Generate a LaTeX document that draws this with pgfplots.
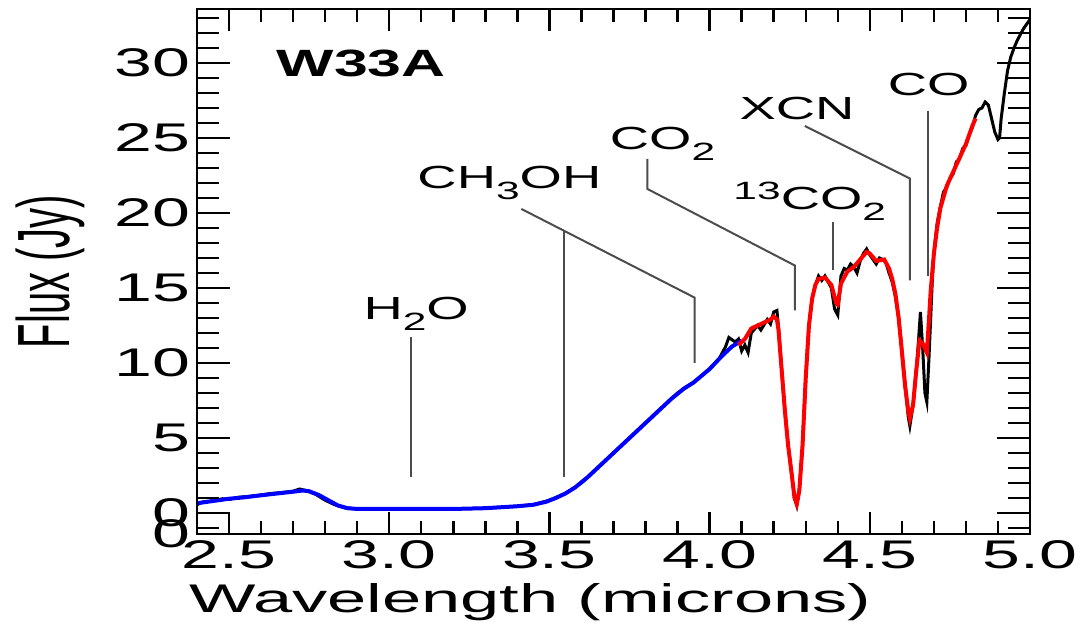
\documentclass[border=0pt]{standalone}
\usepackage{fontspec}
\setmainfont{Liberation Sans}
\usepackage{graphicx}
\usepackage{pgfplots}
\pgfplotsset{compat=1.18}
\newcommand\sx[1]{\scalebox{1.7}[1]{#1}}
\newcommand\sub[1]{\raisebox{-5.5pt}{\fontsize{12.5}{12.5}\selectfont #1}}
\newcommand\sps[1]{\raisebox{5pt}{\fontsize{12.5}{12.5}\selectfont #1}}
\definecolor{annot}{gray}{0.3}
\pgfplotsset{common/.style={at={(0,0)}, anchor=south west,
  scale only axis, width=416.5pt, height=262.5pt,
  xmin=2.4, xmax=5.0, ymin=-1.4, ymax=33.6,
  tick align=inside,
  axis line style={line width=1.3pt},
  tick style={line width=1.2pt, black},
  tick label style={font=\fontsize{20}{20}\selectfont},
  label style={font=\fontsize{20}{20}\selectfont}}}
\begin{document}
\begin{tikzpicture}
\begin{axis}[common, name=ax,
  xtick={2.5,3,3.5,4,4.5,5},
  xticklabels={\sx{2.5},\sx{3.0},\sx{3.5},\sx{4.0},\sx{4.5},\sx{5.0}},
  minor xtick={2.4,2.5,...,5.0},
  ytick=\empty,
  major tick length=11pt, minor tick length=6.5pt,
  xlabel={\scalebox{1.76}[1]{Wavelength (microns)}},
  x label style={at={(ticklabel cs:0.4)}, anchor=north},
]
% observed spectrum (black)
\addplot[black, line width=1.5pt] coordinates {
(2.40,0.55) (2.42,0.75) (2.45,0.8) (2.48,0.95) (2.50,0.9) (2.53,1.05) (2.56,1.1)
(2.60,1.2) (2.63,1.3) (2.66,1.35) (2.70,1.45) (2.72,1.6) (2.74,1.5) (2.77,1.25)
(2.80,0.85) (2.83,0.55) (2.86,0.35) (2.90,0.27) (3.00,0.27) (3.10,0.27) (3.20,0.27)
(3.30,0.32) (3.40,0.45) (3.45,0.55) (3.50,0.85) (3.55,1.3) (3.60,2.0) (3.65,3.0)
(3.70,4.0) (3.75,5.0) (3.80,6.0) (3.85,7.0) (3.90,8.0) (3.95,8.7) (4.00,9.6)
(4.03,10.3) (4.05,11.1) (4.06,11.7) (4.08,11.4) (4.09,11.6) (4.10,10.8) (4.11,11.2)
(4.12,10.7) (4.13,12.0) (4.15,12.5) (4.16,12.2) (4.18,12.9) (4.19,12.6) (4.20,13.4)
(4.21,13.5) (4.215,12.4) (4.225,9.5) (4.235,6.8) (4.245,4.5) (4.255,2.8) (4.265,1.0)
(4.272,0.5) (4.28,1.5) (4.29,4.5) (4.30,9.0) (4.31,12.5) (4.32,14.3) (4.33,15.2)
(4.34,15.8) (4.35,15.5) (4.36,15.8) (4.37,15.4) (4.38,15.0) (4.39,13.6) (4.40,13.2)
(4.41,15.8) (4.42,16.3) (4.43,16.2) (4.44,16.6) (4.45,16.4) (4.46,16.0) (4.47,16.8)
(4.48,17.3) (4.49,17.6) (4.50,17.2) (4.51,16.9) (4.52,16.6) (4.53,17.0) (4.54,16.9)
(4.55,16.7) (4.56,16.0) (4.57,15.4) (4.58,14.4) (4.59,13.0) (4.60,10.8) (4.61,8.6)
(4.62,6.4) (4.625,5.8) (4.635,7.2) (4.645,9.5) (4.652,11.5) (4.658,13.4) (4.665,11.0)
(4.672,8.0) (4.678,7.4) (4.685,10.5) (4.695,15.5) (4.70,17.3) (4.71,19.3) (4.72,20.4)
(4.73,21.4) (4.74,21.7) (4.75,22.3) (4.76,22.6) (4.77,23.4) (4.78,23.6) (4.79,24.3)
(4.80,24.5) (4.81,25.2) (4.82,25.7) (4.83,26.5) (4.84,26.9) (4.85,27.0) (4.86,27.4)
(4.87,27.2) (4.88,26.3) (4.89,25.4) (4.90,24.9) (4.905,25.0) (4.91,26.3) (4.92,28.0)
(4.93,29.5) (4.94,30.4) (4.95,31.0) (4.96,31.5) (4.97,31.9) (4.98,32.3) (4.99,32.6)
(5.00,32.9)
};
% continuum fit (blue)
\addplot[blue, line width=2pt] coordinates {
(2.40,0.65) (2.45,0.8) (2.50,0.95) (2.55,1.05) (2.60,1.18) (2.65,1.3) (2.70,1.42)
(2.73,1.5) (2.75,1.45) (2.78,1.2) (2.81,0.85) (2.84,0.5) (2.87,0.32) (2.90,0.27)
(3.00,0.27) (3.10,0.27) (3.20,0.27) (3.30,0.32) (3.40,0.45) (3.45,0.55) (3.49,0.75)
(3.52,1.0) (3.55,1.3) (3.58,1.7) (3.62,2.4) (3.65,3.0) (3.70,4.0) (3.75,5.0) (3.80,6.0)
(3.85,7.0) (3.88,7.6) (3.92,8.3) (3.95,8.7) (4.00,9.6) (4.04,10.5) (4.07,11.1) (4.10,11.5)
};
% model fit (red)
\addplot[red, line width=2pt] coordinates {
(4.09,11.2) (4.11,11.6) (4.13,12.3) (4.16,12.6) (4.19,12.9) (4.20,13.1) (4.21,12.9)
(4.215,12.2) (4.225,9.5) (4.235,6.8) (4.245,4.5) (4.255,2.8) (4.265,1.0) (4.272,0.6)
(4.28,1.5) (4.29,4.5) (4.30,9.0) (4.31,12.5) (4.32,14.3) (4.33,15.2) (4.34,15.6)
(4.36,15.7) (4.38,15.2) (4.395,14.0) (4.40,13.9) (4.41,15.3) (4.43,16.1) (4.45,16.4)
(4.47,16.9) (4.49,17.4) (4.50,17.3) (4.52,16.8) (4.545,16.9) (4.56,16.3) (4.57,15.6)
(4.58,14.6) (4.59,13.0) (4.60,10.8) (4.61,8.5) (4.62,6.8) (4.625,6.3) (4.635,7.2)
(4.645,9.5) (4.655,11.5) (4.665,11.3) (4.678,10.7) (4.685,13.0) (4.69,14.8)
(4.70,17.3) (4.71,19.0) (4.72,20.3) (4.74,21.8) (4.77,23.2) (4.80,24.6) (4.82,25.8)
(4.83,26.3)
};
% annotation lines
\begin{scope}[annot, line width=1pt]
\draw (axis cs:3.069,11.7) -- (axis cs:3.069,2.4);
\draw (axis cs:3.544,18.86) -- (axis cs:3.544,2.42);
\draw (axis cs:3.4125,20.27) -- (axis cs:3.953,14.36) -- (axis cs:3.953,10.0);
\draw (axis cs:3.806,23.6) -- (axis cs:3.806,21.6) -- (axis cs:4.266,16.5) -- (axis cs:4.266,13.5);
\draw (axis cs:4.384,19.4) -- (axis cs:4.384,16.2);
\draw (axis cs:4.297,25.8) -- (axis cs:4.625,22.3) -- (axis cs:4.625,15.5);
\draw (axis cs:4.681,26.8) -- (axis cs:4.681,15.8);
\end{scope}
% annotation labels
\begin{scope}[every node/.style={anchor=base, inner sep=0pt, font=\fontsize{16}{16}\selectfont}]
\node at (axis cs:3.084,12.9) {\sx{H\sub{2}O}};
\node at (axis cs:3.375,21.6) {\sx{CH\sub{3}OH}};
\node at (axis cs:3.853,24.2) {\sx{CO\sub{2}}};
\node at (axis cs:4.3125,20.2) {\sx{\sps{13}CO\sub{2}}};
\node at (axis cs:4.273,26.2) {\sx{XCN}};
\node at (axis cs:4.684,27.8) {\sx{CO}};
\end{scope}
\node[anchor=base, inner sep=0pt, font=\bfseries\fontsize{19}{19}\selectfont] at (axis cs:2.9125,29.1) {\scalebox{1.6}[1]{W33A}};
\end{axis}
\begin{axis}[common,
  xtick=\empty,
  ytick={0,5,...,30},
  yticklabels={\sx{0},\sx{5},\sx{10},\sx{15},\sx{20},\sx{25},\sx{30}},
  minor ytick={-1,0,...,33},
  extra y ticks={-1.4}, extra y tick labels={\sx{0}},
  extra y tick style={major tick length=0pt},
  major tick length=16.5pt, minor tick length=11pt,
  ylabel={\scalebox{1}[1.85]{Flux (Jy)}},
  ylabel shift=8pt,
]
\end{axis}
\pgfresetboundingbox
\path ([shift={(-98.5pt,-53pt)}]ax.south west) rectangle ([shift={(25pt,4.5pt)}]ax.north east);
\end{tikzpicture}
\end{document}
